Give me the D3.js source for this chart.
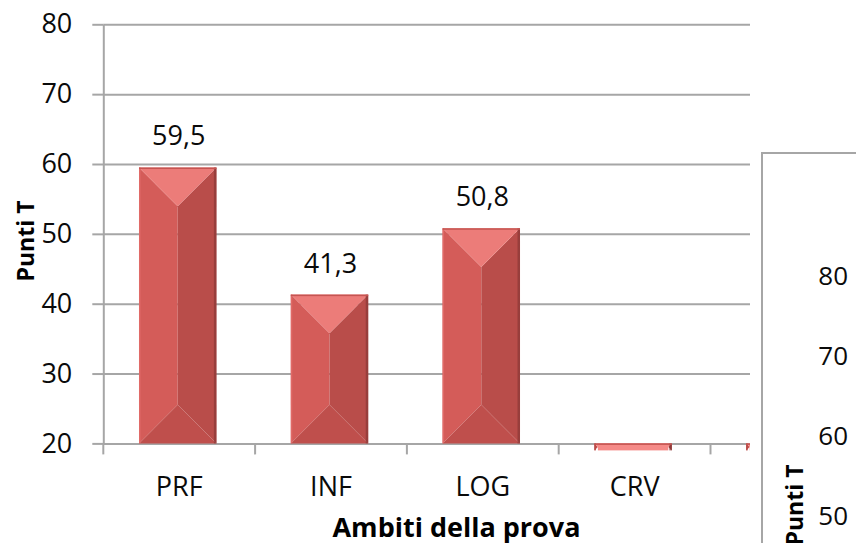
<!DOCTYPE html>
<html><head><meta charset="utf-8">
<script src="https://cdn.jsdelivr.net/npm/d3@7"></script>
<style>
body{margin:0;background:#fff}
svg{display:block}
text{font-family:"Open Sans",sans-serif}
</style>
</head><body>
<svg id="c" width="856" height="543"></svg>
<script>
const categories = ["PRF", "INF", "LOG", "CRV", ""];
const values = [59.5, 41.3, 50.8, 19, 19];
const valueLabels = ["59,5", "41,3", "50,8", "", ""];
const yTicks = [20, 30, 40, 50, 60, 70, 80];
const yTicks2 = [50, 60, 70, 80];
const xTitle = "Ambiti della prova";
const yTitle = "Punti T";

const svg = d3.select("#c");
const defs = svg.append("defs");
defs.append("clipPath").attr("id", "clip1").append("rect")
  .attr("x", 0).attr("y", 0).attr("width", 750).attr("height", 543);

const y = d3.scaleLinear().domain([20, 80]).range([443.4, 24.3]);
const xb = d3.scaleBand().domain(categories).range([103.3, 862.3]).padding(0);
const barW = xb.bandwidth() * 0.51;
const gridColor = "#a6a6a6";
const textColor = "#0a0a0a";

const g = svg.append("g").attr("clip-path", "url(#clip1)");

// gridlines
const grid = g.append("g").attr("transform", "translate(103.3,0)")
  .call(d3.axisLeft(y).tickValues(yTicks.filter(t => t > 20)).tickSize(-(750 - 103.3)).tickFormat(""));
grid.select(".domain").remove();
grid.selectAll("line").attr("stroke", gridColor).attr("stroke-width", 2);

// y axis
const ya = g.append("g").attr("transform", "translate(103.3,0)")
  .call(d3.axisLeft(y).tickValues(yTicks).tickSize(11).tickPadding(20).tickSizeOuter(0));
ya.select(".domain").attr("stroke", gridColor).attr("stroke-width", 2);
ya.selectAll("line").attr("stroke", gridColor).attr("stroke-width", 2);
ya.selectAll("text").attr("font-size", 27).attr("fill", textColor)
  .style("font-family", '"Open Sans",sans-serif');

// x axis line and boundary ticks
const xa = g.append("g").attr("transform", `translate(0,${y(20)})`)
  .call(d3.axisBottom(xb).tickSize(0).tickPadding(33).tickSizeOuter(0));
xa.select(".domain").attr("stroke", gridColor).attr("stroke-width", 2);
xa.selectAll("text").attr("font-size", 27).attr("fill", textColor)
  .style("font-family", '"Open Sans",sans-serif');
const bounds = categories.map(c => xb(c)).concat([xb.range()[1]]);
g.append("g").selectAll("line").data(bounds).join("line")
  .attr("x1", d => d).attr("x2", d => d)
  .attr("y1", y(20)).attr("y2", y(20) + 11)
  .attr("stroke", gridColor).attr("stroke-width", 2);

// bars with bevel
const barsG = g.append("g");
categories.forEach((c, i) => {
  const v = values[i];
  const x0 = xb(c) + (xb.bandwidth() - barW) / 2 - 1.5;
  const yTop = Math.min(y(v), y(20));
  const h = Math.abs(y(v) - y(20));
  const w = barW;
  const d = Math.min(w / 2, h / 2);
  const low = v < 20;
  const topCol = low ? "#f58a87" : "#ec7c79";
  const bg = barsG.append("g");
  const poly = (pts, fill) => bg.append("polygon").attr("points", pts.map(p => p.join(",")).join(" ")).attr("fill", fill);
  // left face
  poly([[x0, yTop], [x0 + d, yTop + d], [x0 + d, yTop + h - d], [x0, yTop + h]], low ? "#c44f4c" : "#d45c59");
  // right face
  poly([[x0 + w, yTop], [x0 + w - d, yTop + d], [x0 + w - d, yTop + h - d], [x0 + w, yTop + h]], low ? "#9c3f3d" : "#b94d4a");
  // middle (when d < w/2)
  if (w - 2 * d > 0.1) bg.append("rect").attr("x", x0 + d).attr("y", yTop).attr("width", w - 2 * d).attr("height", h).attr("fill", topCol);
  // bottom face
  if (!low) poly([[x0, yTop + h], [x0 + d, yTop + h - d], [x0 + w - d, yTop + h - d], [x0 + w, yTop + h]], "#bf4f4c");
  // top face
  poly([[x0, yTop], [x0 + w, yTop], [x0 + w - d, yTop + d], [x0 + d, yTop + d]], topCol);
  // edges
  bg.append("rect").attr("x", x0 + w - 2.5).attr("y", yTop).attr("width", 2.5).attr("height", h).attr("fill", "#8e3a38").attr("opacity", 0.75);
  bg.append("rect").attr("x", x0).attr("y", yTop).attr("width", 1.5).attr("height", h).attr("fill", low ? "#b84a47" : "#e06a67");
  bg.append("rect").attr("x", x0).attr("y", yTop).attr("width", w).attr("height", 1.5).attr("fill", "#c55552");
  if (valueLabels[i]) {
    barsG.append("text").attr("x", x0 + w / 2 + 1).attr("y", y(v) - 22)
      .attr("text-anchor", "middle").attr("font-size", 27).attr("fill", textColor)
      .text(valueLabels[i]);
  }
});

// axis titles
svg.append("text").attr("x", 456.5).attr("y", 537).attr("text-anchor", "middle")
  .attr("font-size", 27).attr("font-weight", "bold").attr("fill", "#000").text(xTitle);
svg.append("text").attr("transform", "translate(34,241) rotate(-90)").attr("text-anchor", "middle")
  .attr("font-size", 23).attr("font-weight", "bold").attr("fill", "#000").text(yTitle);

// second chart (overlapping box)
const g2 = svg.append("g");
g2.append("rect").attr("x", 762).attr("y", 153).attr("width", 120).attr("height", 420)
  .attr("fill", "#fff").attr("stroke", gridColor).attr("stroke-width", 2);
const y2 = d3.scaleLinear().domain([50, 80]).range([516, 276]);
const ya2 = g2.append("g").attr("transform", "translate(869,0)")
  .call(d3.axisLeft(y2).tickValues(yTicks2).tickSize(0).tickPadding(21));
ya2.select(".domain").remove();
ya2.selectAll("text").attr("font-size", 26).attr("fill", textColor)
  .style("font-family", '"Open Sans",sans-serif');
g2.append("text").attr("transform", "translate(803,505) rotate(-90)").attr("text-anchor", "middle")
  .attr("font-size", 23).attr("font-weight", "bold").attr("fill", "#000").text(yTitle);
</script>
</body></html>
